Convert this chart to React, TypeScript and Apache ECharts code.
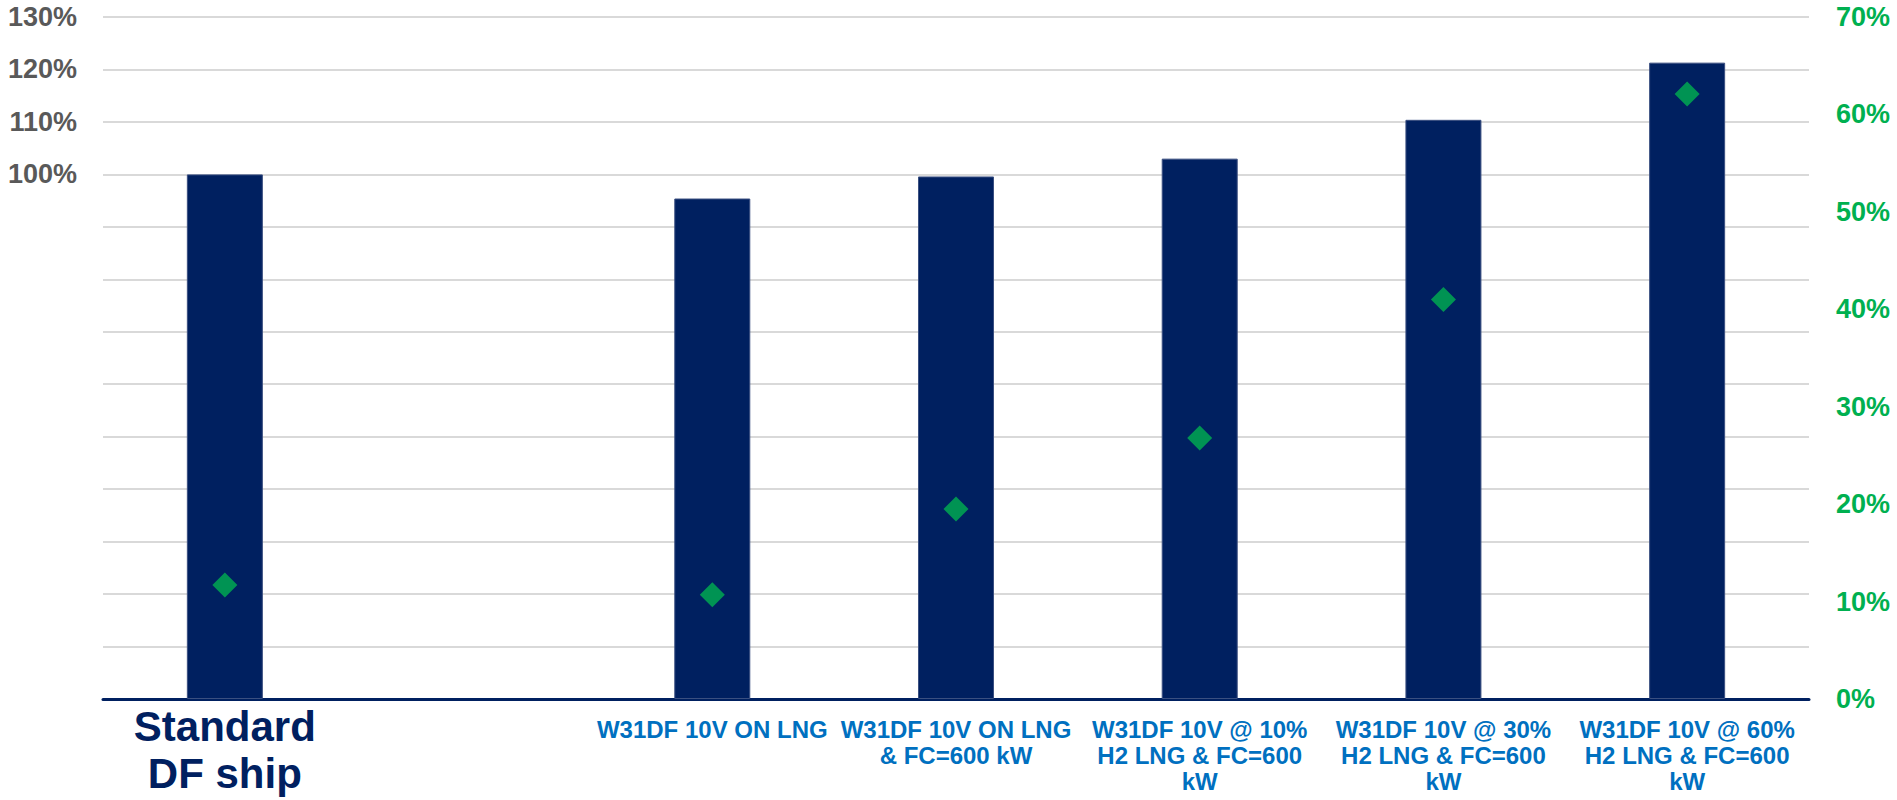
import React, { useEffect, useRef } from "react";
import * as echarts from "echarts";

const categories: string[] = [
  "Standard\nDF ship",
  "",
  "W31DF 10V ON LNG",
  "W31DF 10V ON LNG\n& FC=600 kW",
  "W31DF 10V @ 10%\nH2 LNG & FC=600\nkW",
  "W31DF 10V @ 30%\nH2 LNG & FC=600\nkW",
  "W31DF 10V @ 60%\nH2 LNG & FC=600\nkW",
];

// left axis (bars), percent
const barValues: (number | null)[] = [100, null, 95.4, 99.6, 103.0, 110.4, 121.3];
// right axis (diamonds), percent
const diamondValues: (number | null)[] = [11.7, null, 10.7, 19.5, 26.8, 41.0, 62.1];

const leftTickLabelsShown: number[] = [100, 110, 120, 130];

export default function App() {
  const ref = useRef<HTMLDivElement>(null);

  useEffect(() => {
    if (!ref.current) return;
    const chart = echarts.init(ref.current, undefined, { renderer: "svg" });
    const font = "'Liberation Sans', Arial, sans-serif";
    chart.setOption({
      animation: false,
      backgroundColor: "#ffffff",
      grid: { left: 103, right: 88, top: 17, bottom: 101 },
      xAxis: {
        type: "category",
        data: categories,
        axisTick: { show: false },
        axisLine: { lineStyle: { color: "#002060", width: 3 } },
        axisLabel: {
          interval: 0,
          margin: 4,
          formatter: (value: string, idx: number) => {
            if (!value) return "";
            const lines = value.split("\n");
            if (idx === 0) return lines.map((l) => `{big|${l}}`).join("\n");
            return ["{gap| }", ...lines.map((l) => `{small|${l}}`)].join("\n");
          },
          rich: {
            big: {
              fontFamily: font,
              fontWeight: "bold",
              fontSize: 42,
              lineHeight: 47,
              color: "#002060",
            },
            small: {
              fontFamily: font,
              fontWeight: "bold",
              fontSize: 24,
              lineHeight: 26,
              color: "#0070C0",
            },
            gap: { fontSize: 10, lineHeight: 13 },
          },
        },
      },
      yAxis: [
        {
          type: "value",
          min: 0,
          max: 130,
          interval: 10,
          axisLine: { show: false },
          axisTick: { show: false },
          splitLine: { lineStyle: { color: "#D9D9D9", width: 2 } },
          axisLabel: {
            margin: 26,
            fontFamily: font,
            fontWeight: "bold",
            fontSize: 27,
            color: "#595959",
            formatter: (v: number) =>
              leftTickLabelsShown.indexOf(Math.round(v)) >= 0 ? `${Math.round(v)}%` : "",
          },
        },
        {
          type: "value",
          min: 0,
          max: 70,
          interval: 10,
          position: "right",
          axisLine: { show: false },
          axisTick: { show: false },
          splitLine: { show: false },
          axisLabel: {
            margin: 27,
            fontFamily: font,
            fontWeight: "bold",
            fontSize: 27,
            color: "#00B050",
            formatter: (v: number) => `${Math.round(v)}%`,
          },
        },
      ],
      series: [
        {
          type: "bar",
          yAxisIndex: 0,
          data: barValues.map((v) => (v === null ? "-" : v)),
          barWidth: 76,
          itemStyle: { color: "#002060", borderColor: "#3A4F80", borderWidth: 1 },
          z: 2,
        },
        {
          type: "scatter",
          yAxisIndex: 1,
          data: diamondValues.map((v) => (v === null ? "-" : v)),
          symbol: "diamond",
          symbolSize: 25,
          itemStyle: { color: "#00B050" },
          z: 3,
        },
      ],
    });
    return () => chart.dispose();
  }, []);

  return (
    <div
      ref={ref}
      style={{ position: "fixed", left: 0, top: 0, width: 1897, height: 800, background: "#fff" }}
    />
  );
}
